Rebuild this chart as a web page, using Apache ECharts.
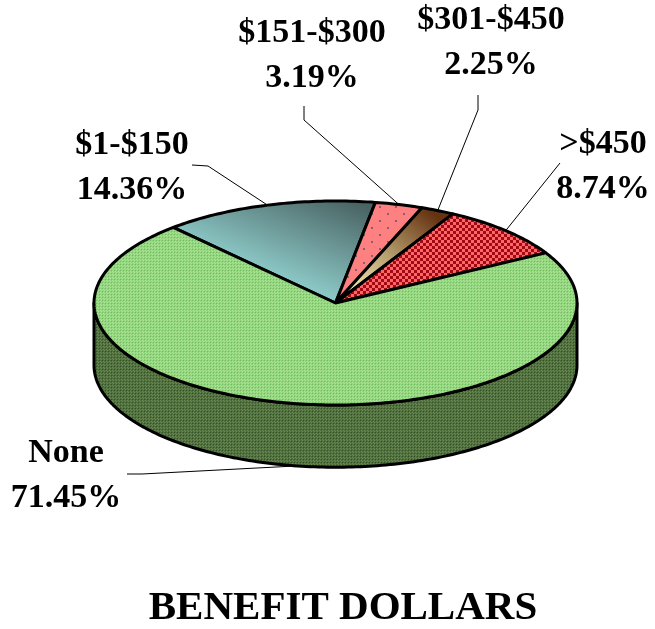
<!DOCTYPE html>
<html>
<head>
<meta charset="utf-8">
<title>Benefit Dollars</title>
<style>
  html, body { margin: 0; background: #fff; }
  #chart { width: 655px; height: 629px; }
</style>
<script src="https://cdn.jsdelivr.net/npm/echarts@6/dist/echarts.min.js"></script>
</head>
<body>
<div id="chart"></div>
<script>
// clockwise from the None / $1-$150 edge
var categories = ["$1-$150", "$151-$300", "$301-$450", ">$450", "None"];
var percents = [14.36, 3.19, 2.25, 8.74, 71.45];
var chartTitle = "BENEFIT DOLLARS";

var START_ANGLE = 132.2; // degrees, on the tilted circle
var DEPTH = 0.61; // wall height, in y axis units
var FONT = '"Liberation Serif", "Times New Roman", serif';
var LABEL_SIZE = 34;

// label centre and the elbow of its leader line, per category
var labelLayout = [
  { x: 132, y: 168, line: [[192, 165], [208, 166]] },
  { x: 312, y: 56, line: [[304, 106], [304, 120]] },
  { x: 491, y: 43, line: [[478, 95], [478, 110]] },
  { x: 603, y: 167, line: [[560, 163]] },
  { x: 66, y: 476, line: [[127, 474], [142, 474]] }
];

function tile(w, h, paint) {
  var c = document.createElement("canvas");
  c.width = w;
  c.height = h;
  paint(c.getContext("2d"));
  return { image: c, repeat: "repeat" };
}

function checker(base, dark, light) {
  return tile(3, 3, function (g) {
    g.fillStyle = base;
    g.fillRect(0, 0, 3, 3);
    g.fillStyle = dark;
    g.fillRect(0, 0, 1, 1);
    g.fillStyle = light;
    g.fillRect(1, 1, 1, 1);
    g.fillRect(2, 2, 1, 1);
  });
}

var redCheck = tile(6, 6, function (g) {
  g.fillStyle = "#ff6666";
  g.fillRect(0, 0, 6, 6);
  g.fillStyle = "#a00a14";
  g.fillRect(0, 0, 3, 3);
  g.fillRect(3, 3, 3, 3);
});

var pinkDots = tile(16, 14, function (g) {
  g.fillStyle = "#ff8080";
  g.fillRect(0, 0, 16, 14);
  g.fillStyle = "#7d6470";
  g.fillRect(3, 3, 2, 2);
  g.fillRect(11, 10, 2, 2);
});

var sliceFills = [
  new echarts.graphic.LinearGradient(0.415, 0.63, 0.59, -0.21, [
    { offset: 0, color: "#8ac6c4" },
    { offset: 1, color: "#4a6464" }
  ]),
  pinkDots,
  new echarts.graphic.LinearGradient(0.75, 0, 0.1, 1, [
    { offset: 0, color: "#653212" },
    { offset: 0.5, color: "#b9a270" },
    { offset: 1, color: "#fff8c8" }
  ]),
  redCheck,
  checker("#93d57c", "#6fbf62", "#aee39a")
];
var wallFill = checker("#4f6f3e", "#33502b", "#6a8a50");

// start and end angle of every slice, walking clockwise
var slices = [];
var walked = START_ANGLE;
percents.forEach(function (p) {
  var sweep = p / 100 * 360;
  slices.push({ from: walked, to: walked - sweep });
  walked -= sweep;
});

function rimPoint(deg, drop) {
  var r = deg * Math.PI / 180;
  return [Math.cos(r), Math.sin(r) - (drop || 0)];
}

// sampled from degree a to degree b in data units
function arc(a, b, drop) {
  var pts = [];
  var n = Math.ceil(Math.abs(b - a));
  for (var i = 0; i <= n; i++) {
    pts.push(rimPoint(a + (b - a) * i / n, drop));
  }
  return pts;
}

function renderSlice(params, api) {
  var i = params.dataIndex;
  var s = slices[i];
  var children = [];
  var outline = { stroke: "#000", lineWidth: 3, lineJoin: "round" };

  // front wall, lower half of the rim only (180..360 in this winding)
  var low = Math.max(s.to, -180);
  var high = Math.min(s.from, 0);
  if (high > low) {
    var wall = arc(high, low, 0).concat(arc(low, high, DEPTH));
    children.push({
      type: "polygon",
      shape: { points: wall.map(api.coord) },
      style: Object.assign({ fill: wallFill }, outline)
    });
  }

  var top = [[0, 0]].concat(arc(s.from, s.to, 0));
  children.push({
    type: "polygon",
    shape: { points: top.map(api.coord) },
    style: Object.assign({ fill: sliceFills[i] }, outline),
    z2: 2
  });

  // leader starts on the visible rim at the middle of the slice
  var mid = (s.from + s.to) / 2;
  var midSin = Math.sin(mid * Math.PI / 180);
  var foot = api.coord(rimPoint(mid, midSin < 0 ? DEPTH : 0));
  var layout = labelLayout[i];
  children.push({
    type: "polyline",
    shape: { points: layout.line.concat([foot]) },
    style: { fill: null, stroke: "#000", lineWidth: 1 },
    z2: 3
  });
  children.push({
    type: "text",
    style: {
      x: layout.x,
      y: layout.y,
      text: categories[i] + "\n" + percents[i].toFixed(2) + "%",
      fill: "#000",
      font: "bold " + LABEL_SIZE + "px " + FONT,
      lineHeight: 45,
      align: "center",
      verticalAlign: "middle"
    },
    z2: 4
  });
  return { type: "group", children: children };
}

var chart = echarts.init(document.getElementById("chart"), null, { renderer: "canvas" });
chart.setOption({
  backgroundColor: "#fff",
  animation: false,
  title: {
    text: chartTitle,
    left: 338,
    top: 583,
    textAlign: "center",
    textStyle: { color: "#000", fontFamily: FONT, fontWeight: "bold", fontSize: 41 }
  },
  // the unit circle on these axes is the tilted pie top
  grid: { left: 94, top: 201, width: 483, height: 204 },
  xAxis: { type: "value", min: -1, max: 1, show: false },
  yAxis: { type: "value", min: -1, max: 1, show: false },
  series: [
    {
      type: "custom",
      coordinateSystem: "cartesian2d",
      silent: true,
      clip: false,
      renderItem: renderSlice,
      data: percents
    }
  ]
});
</script>
</body>
</html>
